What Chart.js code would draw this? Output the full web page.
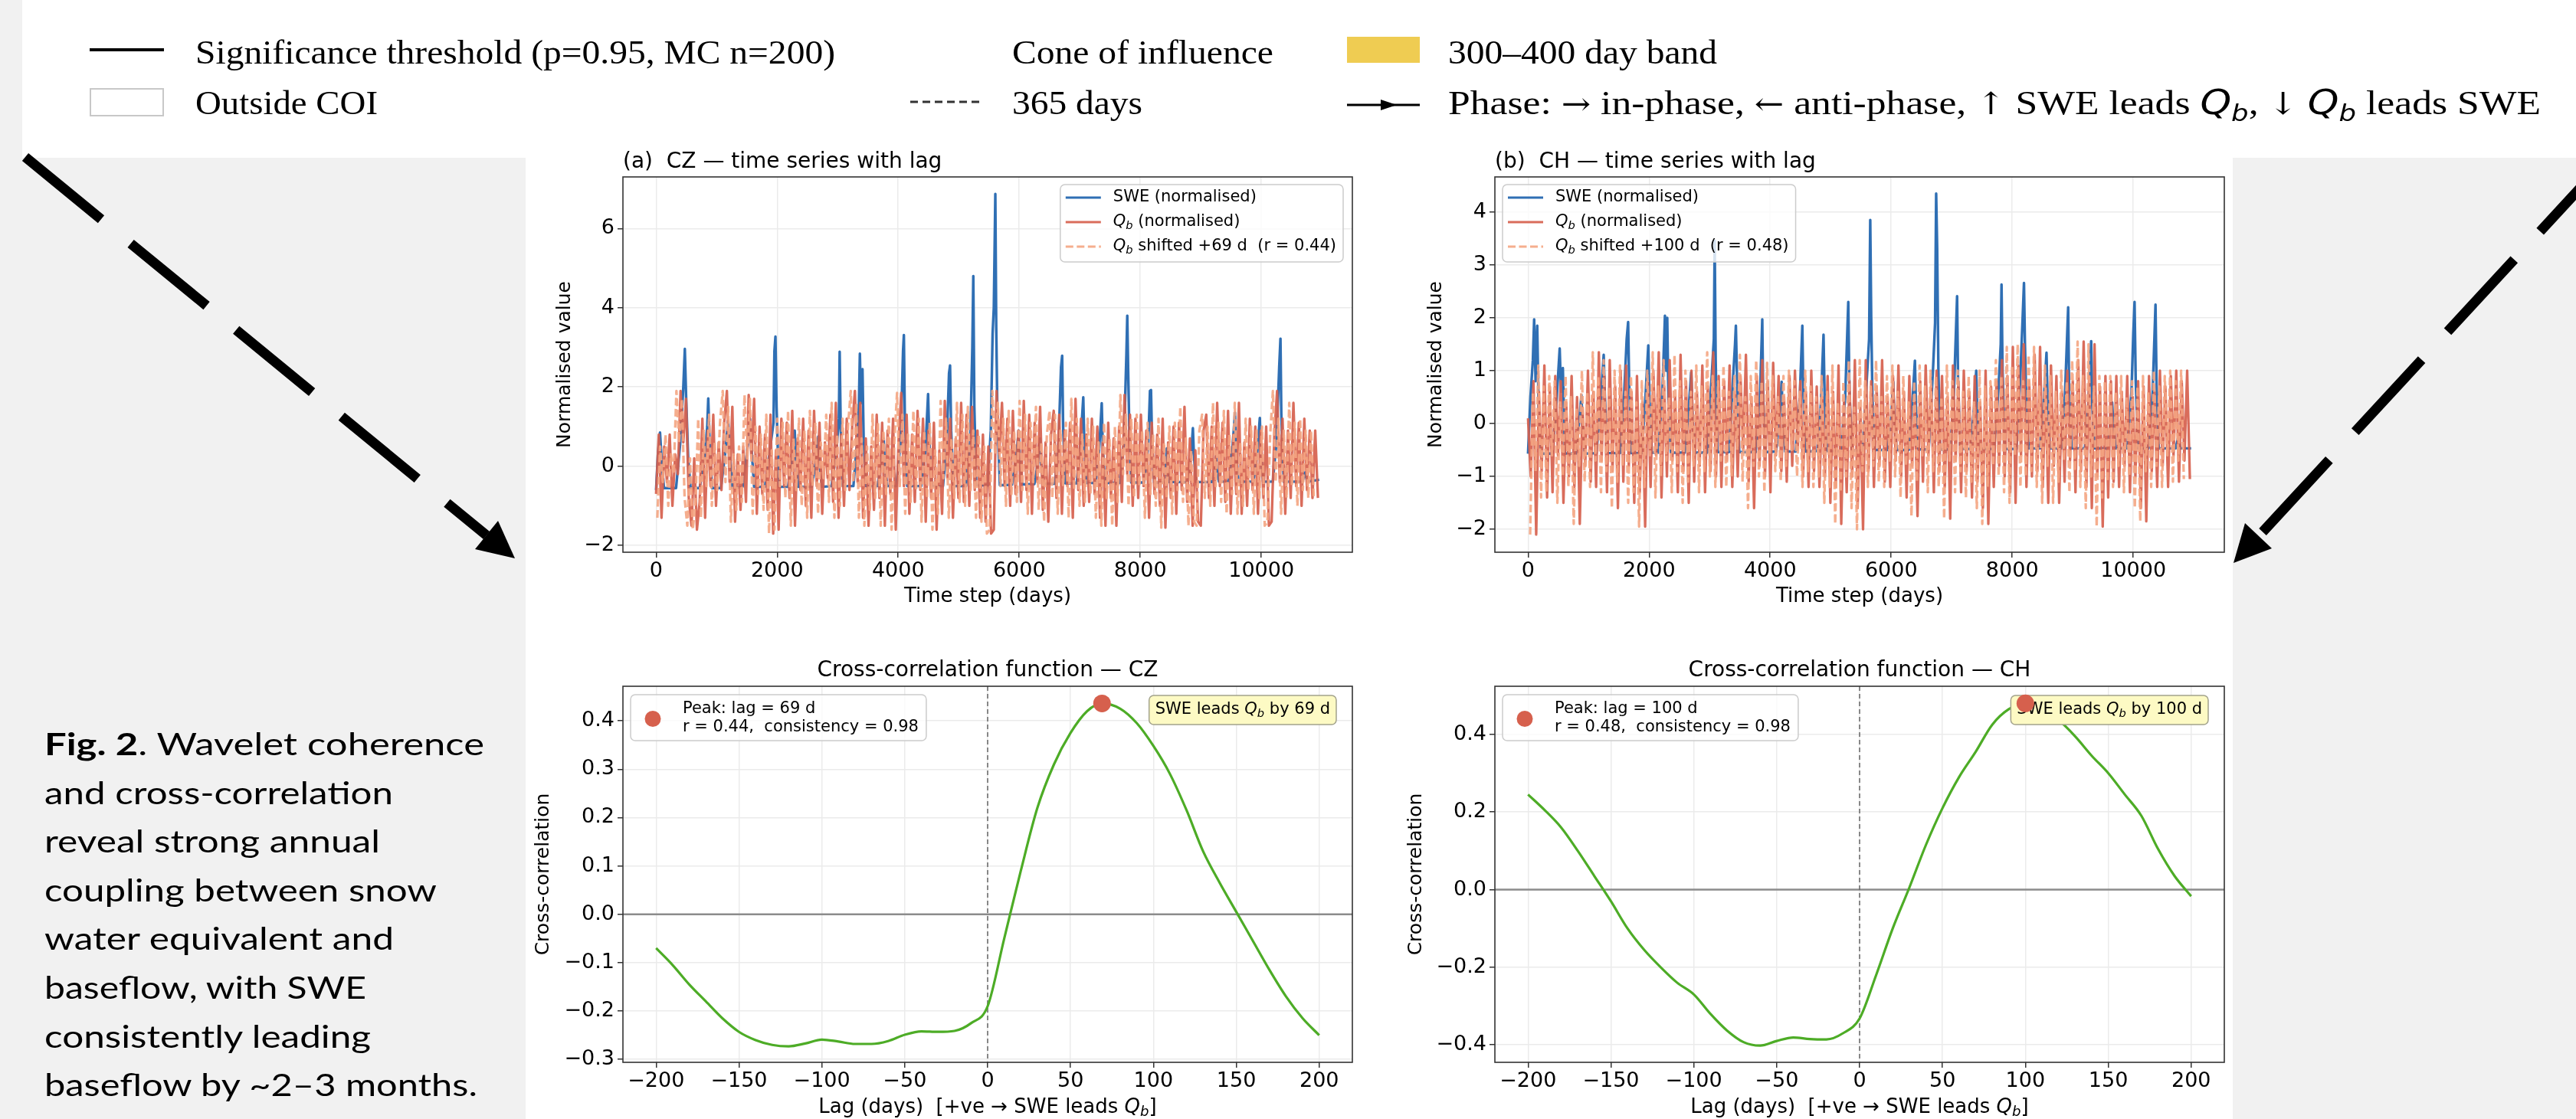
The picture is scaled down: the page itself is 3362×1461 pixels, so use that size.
<!DOCTYPE html>
<html>
<head>
<meta charset="utf-8">
<title>SWE / baseflow lag</title>
<script src="https://cdn.jsdelivr.net/npm/chart.js@4.4.1/dist/chart.umd.min.js"></script>
<style>
  html, body { margin: 0; padding: 0; }
  body { width: 3362px; height: 1461px; position: relative; overflow: hidden; background: #f1f1f1; }
  .sheet { position: absolute; background: #fff; }
  .panel { position: absolute; }
  #deco { position: absolute; left: 0; top: 0; }
</style>
</head>
<body>
<div class="sheet" style="left:686px;top:0;width:2228px;height:1461px"></div>
<div class="sheet" style="left:29px;top:0;width:3333px;height:206px"></div>

<div class="panel" style="left:680px;top:180px"><canvas id="tsCZ" width="1105" height="620"></canvas></div>
<div class="panel" style="left:1820px;top:180px"><canvas id="tsCH" width="1105" height="620"></canvas></div>
<div class="panel" style="left:680px;top:830px"><canvas id="xcCZ" width="1105" height="631"></canvas></div>
<div class="panel" style="left:1820px;top:830px"><canvas id="xcCH" width="1105" height="631"></canvas></div>

<svg id="deco" width="3362" height="1461">
  <!-- pointer arrows -->
  <line x1="33" y1="205" x2="635" y2="699" stroke="#000" stroke-width="13" stroke-dasharray="128 50"/>
  <polygon points="672,729 620,717 650,680" fill="#000"/>
  <line x1="3402" y1="208" x2="2948" y2="700" stroke="#000" stroke-width="13" stroke-dasharray="128 50"/>
  <polygon points="2915,735 2965,716 2930,683" fill="#000"/>

  <!-- key for the wavelet panels -->
  <g font-family="'Liberation Serif', serif" font-size="45" fill="#000" style="white-space:pre">
    <line x1="117" y1="65" x2="214" y2="65" stroke="#000" stroke-width="4"/>
    <text x="255" y="83" textLength="835" lengthAdjust="spacingAndGlyphs">Significance threshold (p=0.95, MC n=200)</text>
    <rect x="118" y="116" width="95" height="35" fill="#fff" stroke="#c8c8c8" stroke-width="2"/>
    <text x="255" y="149" textLength="238" lengthAdjust="spacingAndGlyphs">Outside COI</text>
    <text x="1321" y="83" textLength="341" lengthAdjust="spacingAndGlyphs">Cone of influence</text>
    <line x1="1188" y1="133" x2="1282" y2="133" stroke="#333" stroke-width="3" stroke-dasharray="10 6"/>
    <text x="1321" y="149" textLength="170" lengthAdjust="spacingAndGlyphs">365 days</text>
    <rect x="1758" y="48" width="95" height="34" fill="#efcc52"/>
    <text x="1890" y="83" textLength="351" lengthAdjust="spacingAndGlyphs">300–400 day band</text>
    <line x1="1758" y1="137" x2="1853" y2="137" stroke="#000" stroke-width="3"/>
    <polygon points="1823,137 1802,130 1802,144" fill="#000"/>
    <text x="1890" y="149" textLength="1426" lengthAdjust="spacingAndGlyphs">Phase: <tspan font-family="'DejaVu Serif'" font-size="40">→</tspan> in-phase, <tspan font-family="'DejaVu Serif'" font-size="40">←</tspan> anti-phase,  <tspan font-family="'DejaVu Serif'" font-size="40">↑</tspan> SWE leads <tspan font-family="'DejaVu Sans'" font-style="italic">Q</tspan><tspan font-family="'DejaVu Sans'" font-style="italic" font-size="31" dy="9">b</tspan><tspan dy="-9">,  </tspan><tspan font-family="'DejaVu Serif'" font-size="40">↓</tspan><tspan> </tspan><tspan font-family="'DejaVu Sans'" font-style="italic">Q</tspan><tspan font-family="'DejaVu Sans'" font-style="italic" font-size="31" dy="9">b</tspan><tspan dy="-9"> leads SWE</tspan></text>
  </g>

  <!-- caption -->
  <g font-family="Lato, 'Open Sans', sans-serif" font-size="40" fill="#000" style="white-space:pre">
    <text x="58" y="986" textLength="574" lengthAdjust="spacingAndGlyphs"><tspan font-weight="700">Fig. 2</tspan>. Wavelet coherence</text>
    <text x="58" y="1050" textLength="455" lengthAdjust="spacingAndGlyphs">and cross-correlation</text>
    <text x="58" y="1113" textLength="438" lengthAdjust="spacingAndGlyphs">reveal strong annual</text>
    <text x="58" y="1177" textLength="512" lengthAdjust="spacingAndGlyphs">coupling between snow</text>
    <text x="58" y="1240" textLength="456" lengthAdjust="spacingAndGlyphs">water equivalent and</text>
    <text x="58" y="1304" textLength="420" lengthAdjust="spacingAndGlyphs">baseflow, with SWE</text>
    <text x="58" y="1368" textLength="426" lengthAdjust="spacingAndGlyphs">consistently leading</text>
    <text x="58" y="1431" textLength="565" lengthAdjust="spacingAndGlyphs">baseflow by ~2–3 months.</text>
  </g>
</svg>

<script>
// ---------------- data ----------------
const tsTicksX = [0, 2000, 4000, 6000, 8000, 10000];
const lagTicksX = [-200, -150, -100, -50, 0, 50, 100, 150, 200];
const czTicksY = [-2, 0, 2, 4, 6];
const chTicksY = [-2, -1, 0, 1, 2, 3, 4];
const czXcTicksY = [-0.3, -0.2, -0.1, 0, 0.1, 0.2, 0.3, 0.4];
const chXcTicksY = [-0.4, -0.2, 0, 0.2, 0.4];

// peak of the cross-correlation and the lag used for the shifted series
const czLag = 69, czPeakR = 0.436, czConsistency = 0.98;
const chLag = 100, chPeakR = 0.48, chConsistency = 0.98;

// SWE (normalised), one line per winter: day index and value
const czSweDay = [
  0, 30, 65, 90, 130,
  330, 400, 450, 475, 495, 530, 570,
  720, 800, 845, 862, 880, 925,
  1070, 1140, 1190, 1215, 1260,
  1430, 1500, 1551, 1575, 1620,
  1800, 1880, 1940, 1955, 1972, 1990, 2030,
  2180, 2250, 2290, 2310, 2350,
  2570, 2640, 2680, 2700, 2740,
  2900, 2980, 3020, 3033, 3050, 3085,
  3260, 3320, 3350, 3367, 3385, 3410, 3430, 3470,
  3660, 3720, 3760, 3780, 3820,
  3970, 4040, 4080, 4094, 4110, 4150,
  4380, 4450, 4494, 4515, 4555,
  4740, 4800, 4840, 4857, 4875, 4915,
  5120, 5190, 5225, 5241, 5258, 5290,
  5480, 5530, 5560, 5580, 5605, 5620, 5640, 5680,
  5880, 5950, 5990, 6010, 6050,
  6250, 6310, 6345, 6365, 6400,
  6590, 6650, 6690, 6709, 6725, 6760,
  6950, 7010, 7058, 7075, 7110,
  7260, 7320, 7363, 7380, 7415,
  7660, 7730, 7770, 7785, 7800, 7820, 7850,
  8060, 8130, 8160, 8177, 8195, 8230,
  8390, 8420, 8439, 8455, 8480,
  8780, 8840, 8869, 8885, 8920,
  9180, 9230, 9249, 9265, 9300,
  9460, 9520, 9565, 9580, 9620,
  9870, 9930, 9975, 9990, 10030,
  10190, 10250, 10295, 10316, 10330, 10370,
  10680, 10722, 10760, 10956
];
const czSwe = [
  -0.6, 0.3, 0.85, 0.2, -0.55,
  -0.55, 0.6, 2.0, 2.96, 1.8, 0.2, -0.55,
  -0.55, 0.2, 1.0, 1.71, 0.8, -0.55,
  -0.55, 0.3, 1.15, 0.4, -0.55,
  -0.52, 0.3, 1.2, 0.5, -0.52,
  -0.52, 0.4, 1.1, 2.9, 3.27, 1.5, -0.52,
  -0.52, 0.2, 0.9, 0.2, -0.52,
  -0.52, 0.1, 0.75, 0.1, -0.52,
  -0.5, 0.4, 1.2, 2.89, 1.0, -0.5,
  -0.5, 0.6, 1.5, 2.84, 1.6, 2.45, 0.6, -0.5,
  -0.5, 0.1, 0.7, 0.0, -0.5,
  -0.5, 0.6, 2.9, 3.31, 1.2, -0.5,
  -0.5, 0.4, 1.82, 0.6, -0.5,
  -0.5, 0.5, 2.35, 2.54, 0.9, -0.5,
  -0.5, 0.6, 3.0, 4.8, 1.5, -0.48,
  -0.48, 0.9, 3.35, 4.0, 6.87, 3.5, 1.2, -0.48,
  -0.47, 0.2, 0.9, 0.2, -0.46,
  -0.45, 0.1, 0.7, 0.0, -0.44,
  -0.44, 0.6, 2.5, 2.79, 1.0, -0.43,
  -0.43, 0.5, 1.74, 0.6, -0.42,
  -0.42, 0.4, 1.59, 0.5, -0.42,
  -0.42, 0.6, 2.8, 3.8, 2.4, 0.8, -0.41,
  -0.41, 0.5, 1.9, 1.92, 0.6, -0.41,
  -0.41, 0.0, 0.45, 0.0, -0.4,
  -0.4, 0.3, 0.96, 0.3, -0.4,
  -0.4, -0.1, 0.25, -0.1, -0.39,
  -0.39, 0.4, 1.35, 0.4, -0.39,
  -0.39, 0.3, 1.22, 0.4, -0.39,
  -0.39, 0.6, 2.5, 3.22, 1.3, -0.39,
  -0.39, -0.16, -0.39, -0.34
];

const chSweDay = [
  0, 40, 80, 101, 125, 152, 175, 215,
  400, 470, 523, 545, 575, 610,
  790, 850, 882, 900, 940,
  1130, 1200, 1250, 1270, 1310,
  1520, 1590, 1630, 1654, 1670, 1710,
  1880, 1940, 1987, 2005, 2045,
  2150, 2220, 2262, 2280, 2300, 2320, 2360,
  2590, 2650, 2696, 2715, 2750,
  2960, 3030, 3070, 3084, 3100, 3130,
  3320, 3390, 3420, 3434, 3450, 3490,
  3760, 3830, 3870, 3885, 3920,
  4100, 4160, 4190, 4210, 4250,
  4420, 4490, 4532, 4548, 4590,
  4780, 4840, 4882, 4900, 4940,
  5170, 5240, 5291, 5310, 5350,
  5530, 5600, 5635, 5654, 5670, 5690, 5725,
  5940, 6000, 6034, 6050, 6090,
  6290, 6350, 6392, 6410, 6450,
  6620, 6690, 6725, 6743, 6760, 6780, 6810,
  6980, 7040, 7089, 7105, 7140,
  7310, 7370, 7405, 7420, 7460,
  7700, 7770, 7810, 7823, 7840, 7880,
  8070, 8130, 8165, 8194, 8210, 8235, 8270,
  8460, 8520, 8566, 8585, 8620,
  8810, 8870, 8924, 8940, 8980,
  9200, 9260, 9304, 9320, 9360,
  9570, 9620, 9650, 9670, 9710,
  9900, 9970, 10000, 10021, 10040, 10080,
  10250, 10320, 10367, 10385, 10420,
  10700, 10740, 10780, 10956
];
const chSwe = [
  -0.57, 0.5, 1.2, 1.97, 0.8, 1.85, 0.3, -0.57,
  -0.57, 0.4, 1.42, 0.6, 1.05, -0.57,
  -0.57, 0.1, 0.54, 0.0, -0.57,
  -0.56, 0.4, 1.3, 0.5, -0.56,
  -0.56, 0.6, 1.6, 1.92, 0.8, -0.56,
  -0.56, 0.5, 1.48, 0.5, -0.55,
  -0.55, 0.6, 2.04, 1.0, 2.0, 0.4, -0.55,
  -0.55, 0.2, 0.97, 0.2, -0.55,
  -0.55, 0.8, 1.6, 3.46, 1.2, -0.54,
  -0.54, 0.9, 1.5, 1.85, 1.0, -0.54,
  -0.54, 0.4, 1.97, 0.5, -0.54,
  -0.53, 0.2, 0.79, 0.1, -0.53,
  -0.53, 0.5, 1.85, 0.6, -0.53,
  -0.52, 0.4, 1.68, 0.5, -0.52,
  -0.52, 0.5, 2.3, 0.6, -0.51,
  -0.51, 0.9, 1.6, 3.85, 2.0, 0.5, -0.5,
  -0.5, 0.1, 0.79, 0.1, -0.5,
  -0.5, 0.4, 1.19, 0.3, -0.49,
  -0.49, 1.0, 1.9, 4.35, 3.3, 1.0, -0.49,
  -0.49, 0.7, 2.41, 0.8, -0.48,
  -0.48, 0.3, 1.0, 0.3, -0.48,
  -0.48, 0.6, 1.5, 2.63, 1.0, -0.48,
  -0.48, 0.8, 1.8, 2.66, 1.5, 0.3, -0.47,
  -0.47, 0.4, 1.34, 0.4, -0.47,
  -0.47, 0.5, 2.2, 0.6, -0.47,
  -0.47, 0.4, 1.56, 0.4, -0.47,
  -0.47, 0.0, 0.4, 0.0, -0.47,
  -0.47, 0.6, 1.7, 2.3, 0.8, -0.47,
  -0.47, 0.6, 2.25, 0.7, -0.47,
  -0.47, -0.27, -0.47, -0.47
];

// baseflow Qb (normalised), read every 45 days from day 0
const qbStep = 45;
const czQb = [
  -0.7, 0.8, -1.3, 0.5, -0.4, 0.8, -1.0, 0.3,
  -0.2, 1.9, 0.6, 1.7, -0.8, -1.5, 0.2, -1.6,
  -0.9, 1.2, -1.3, 0.9, -0.5, 1.3, -1.0, 0.6,
  -0.6, 1.1, 1.9, -0.4, 1.5, -1.4, 0.3, -1.1,
  0.5, -0.9, 1.8, 0.2, 1.7, -1.2, 1.0, -0.7,
  0.8, -1.1, 1.3, -1.7, 0.4, -1.6, 1.2, -0.5,
  1.1, -0.8, 1.4, -1.5, 0.7, -0.6, 1.2, -1.0,
  0.9, -1.3, 1.4, -0.5, 1.1, -1.2, 0.6, -0.3,
  1.3, -0.9, 1.6, -1.3, 0.8, -1.0, 1.2, -0.6,
  1.0, 1.9, -0.4, 1.6, -1.3, 0.7, -1.5, 0.5,
  -1.1, 1.3, -0.8, 1.1, -1.5, 0.9, -0.7, 1.2,
  -1.6, 0.6, 1.85, -0.5, 1.3, -1.2, 0.8, -0.9,
  1.4, -0.6, 1.2, -1.4, 0.9, -0.8, 1.1, -1.6,
  0.4, -1.2, 1.65, -0.3, 1.2, -1.3, 0.7, -0.8,
  1.6, -0.9, 1.3, -1.0, 1.5, -0.6, 0.9, -1.3,
  0.8, -1.4, 0.5, -1.7, -1.6, 1.9, 0.3, 1.6,
  -0.5, 1.2, -1.0, 1.4, -0.7, 0.9, -0.9, 1.65,
  -0.6, 1.3, -1.2, 1.1, -0.4, 1.5, -1.1, 0.6,
  -1.4, 0.8, 1.4, -0.8, 1.3, -1.2, 0.9, -0.5,
  1.1, -1.3, 1.7, -0.6, 1.2, -1.0, 0.8, -0.9,
  1.2, -0.7, 1.0, -1.3, 0.6, -1.5, 1.1, -0.8,
  0.7, -1.5, 1.0, -0.9, 1.8, -0.2, 1.3, -1.0,
  1.2, -0.8, 1.3, -0.5, 0.9, -1.3, 1.1, -0.7,
  0.8, -1.0, 1.2, -1.55, 0.6, -0.8, 1.0, -1.2,
  1.1, -0.6, 1.5, -0.9, 0.7, -1.5, 0.4, -1.4,
  -1.5, 0.9, 1.3, -0.8, 1.0, -1.0, 1.6, -0.5,
  1.1, -0.9, 1.4, -1.2, 0.8, -0.7, 1.6, -1.2,
  0.6, -1.0, 1.2, -0.6, 1.0, -1.2, 0.9, -0.8,
  1.0, -1.5, -1.4, 0.8, 1.9, -0.4, 1.2, -1.2,
  0.9, -0.8, 1.6, -0.5, 1.1, -1.0, 1.2, -0.6,
  0.9, -0.8, 0.9, -0.8
];
const chQb = [
  0.1, -1.0, 0.8, -2.1, 0.6, -0.9, 1.1, -1.4,
  0.7, -1.3, 0.9, -0.6, 0.8, -1.5, 0.4, -1.0,
  0.9, -1.2, 0.5, -1.9, 0.3, -0.8, 1.0, -1.1,
  0.6, -1.2, 1.35, -0.7, 0.9, -1.3, 1.2, -0.9,
  0.7, -1.6, 1.0, -1.1, 1.1, -0.8, 0.6, -1.5,
  0.9, -1.3, 0.4, -1.95, 0.8, -1.2, 1.0, -0.6,
  1.35, -1.4, 0.7, -1.0, 1.2, -0.7, 0.5, -1.3,
  1.3, -0.9, 0.8, -1.5, 1.0, -1.1, 0.6, -0.8,
  1.1, -1.3, 0.7, -0.9, 1.35, -1.0, 0.9, -1.2,
  0.8, -0.7, 1.1, -1.2, 0.6, -1.0, 0.9, -0.5,
  1.3, -1.1, 0.5, -1.6, 0.9, -0.8, 1.2, -1.0,
  0.8, -1.3, 1.15, -0.6, 0.9, -0.9, 0.5, -1.1,
  0.9, -0.8, 1.0, -0.5, 0.8, -1.0, 0.6, -1.2,
  1.0, -0.9, 0.7, -1.2, 0.5, -1.0, 0.9, -1.5,
  0.6, -1.2, 1.1, -1.9, 0.4, -1.3, 0.8, -1.0,
  1.2, -1.6, 0.3, -2.0, 1.2, -0.9, 0.8, -1.2,
  0.7, -0.8, 1.2, -1.1, 0.5, -1.2, 0.9, -0.7,
  1.1, -1.0, 0.6, -1.4, 0.9, -0.8, 0.4, -1.75,
  0.8, -1.1, 1.1, -0.6, 0.7, -1.3, 1.0, -0.9,
  0.9, -1.2, 0.5, -1.8, 1.1, -0.7, 0.8, -1.3,
  1.0, -0.9, 0.6, -1.4, 0.9, -1.1, 0.4, -1.6,
  1.0, -1.9, 0.7, -1.2, 0.8, -0.8, 1.2, -1.0,
  0.9, -1.3, 1.45, -1.5, 1.1, -0.6, 1.5, -1.2,
  0.8, -1.0, 1.3, -0.9, 1.45, -1.2, 0.7, -1.5,
  1.1, -0.8, 0.9, -1.5, 0.6, -1.1, 1.0, -0.7,
  0.8, -1.3, 1.2, -0.9, 1.55, -1.2, 0.9, -1.6,
  1.5, -1.0, 0.7, -1.95, 0.9, -1.4, 0.8, -1.1,
  0.9, -1.2, 0.6, -0.8, 0.9, -1.3, 0.5, -1.0,
  0.8, -1.6, 0.7, -1.85, 0.9, -0.9, 0.6, -1.2,
  1.0, -0.8, 0.7, -1.2, 0.9, -0.6, 1.0, -1.1,
  0.8, -0.7, 1.0, -1.05
];

// cross-correlation against lag (days)
const czXcLag = [-200, -190, -180, -170, -160, -150, -140, -130, -120, -110, -100, -90, -80, -70, -60, -50, -40, -30, -20, -10,
  0, 10, 20, 30, 40, 50, 60, 69, 80, 90, 100, 110, 120, 130, 140, 150, 160, 170, 180, 190, 200];
const czXc = [-0.07, -0.105, -0.145, -0.18, -0.215, -0.243, -0.26, -0.27, -0.273, -0.267, -0.259, -0.263, -0.268, -0.268, -0.262, -0.249, -0.242, -0.243, -0.241, -0.225,
  -0.19, -0.05, 0.09, 0.22, 0.31, 0.375, 0.42, 0.436, 0.425, 0.395, 0.348, 0.29, 0.215, 0.13, 0.065, 0.005, -0.055, -0.115, -0.17, -0.215, -0.25];
const chXcLag = [-200, -190, -180, -170, -160, -150, -140, -130, -120, -110, -100, -90, -80, -70, -60, -50, -40, -30, -20, -10,
  0, 10, 20, 30, 40, 50, 60, 70, 80, 90, 100, 110, 120, 130, 140, 150, 160, 170, 180, 190, 200];
const chXc = [0.245, 0.205, 0.16, 0.10, 0.035, -0.03, -0.10, -0.155, -0.20, -0.24, -0.27, -0.32, -0.363, -0.393, -0.402, -0.39, -0.381, -0.385, -0.386, -0.37,
  -0.332, -0.22, -0.1, 0.005, 0.115, 0.21, 0.29, 0.355, 0.425, 0.465, 0.48, 0.465, 0.437, 0.395, 0.345, 0.3, 0.245, 0.19, 0.105, 0.035, -0.017];

// ---------------- styling ----------------
const FAMILY = '"DejaVu Sans", sans-serif';
const SWE_C = '#2f6fb4';
const QB_C = 'rgba(214, 96, 77, 0.92)';
const QBS_C = 'rgba(244, 165, 130, 0.9)';
const XC_C = '#4dac26';
const PEAK_C = '#d6604d';
const GRID_C = '#ebebeb';
const QB = [['Q', 'it'], ['b', 'sub']];

Chart.defaults.font.family = FAMILY;

function fmt(v, dec) {
  return (v < -1e-9 ? '\u2212' : '') + Math.abs(v).toFixed(dec);
}

function pairs(xs, ys) {
  return xs.map((x, i) => ({ x, y: ys[i] }));
}

function sampled(vals, step, shift) {
  const out = [];
  vals.forEach((v, i) => {
    const x = i * step - shift;
    if (x >= 0) out.push({ x, y: v });
  });
  return out;
}

function setFont(ctx, size, italic) {
  ctx.font = (italic ? 'italic ' : '') + size + 'px ' + FAMILY;
}

// text made of plain / italic / italic-subscript runs
function richWidth(ctx, parts, size) {
  let w = 0;
  parts.forEach(([t, k]) => {
    setFont(ctx, k === 'sub' ? size * 0.7 : size, !!k);
    w += ctx.measureText(t).width;
  });
  return w;
}

function drawRich(ctx, parts, x, y, size, align) {
  const w = richWidth(ctx, parts, size);
  let cx = align === 'center' ? x - w / 2 : align === 'right' ? x - w : x;
  ctx.textAlign = 'left';
  ctx.textBaseline = 'middle';
  parts.forEach(([t, k]) => {
    setFont(ctx, k === 'sub' ? size * 0.7 : size, !!k);
    ctx.fillText(t, cx, k === 'sub' ? y + size * 0.25 : y);
    cx += ctx.measureText(t).width;
  });
}

function boxPath(ctx, x, y, w, h, r) {
  ctx.beginPath();
  if (ctx.roundRect) ctx.roundRect(x, y, w, h, r);
  else ctx.rect(x, y, w, h);
}

function drawSeriesLegend(chart, lg) {
  const { ctx, chartArea: ca } = chart;
  const fs = 21;
  let tw = 0;
  lg.rows.forEach((r) => { tw = Math.max(tw, richWidth(ctx, r.parts, fs)); });
  const w = 69 + tw + 9, h = 101;
  const x0 = lg.side === 'right' ? ca.right - 12 - w : ca.left + 10;
  const y0 = ca.top + 10;
  ctx.save();
  boxPath(ctx, x0, y0, w, h, 6);
  ctx.fillStyle = 'rgba(255,255,255,0.8)';
  ctx.fill();
  ctx.strokeStyle = '#cccccc';
  ctx.lineWidth = 1.5;
  ctx.stroke();
  lg.rows.forEach((r, i) => {
    const yc = y0 + 17 + 32 * i;
    ctx.strokeStyle = r.color;
    ctx.lineWidth = 3.2;
    ctx.setLineDash(r.dash || []);
    ctx.beginPath();
    ctx.moveTo(x0 + 7, yc);
    ctx.lineTo(x0 + 53, yc);
    ctx.stroke();
    ctx.setLineDash([]);
    ctx.fillStyle = '#000';
    drawRich(ctx, r.parts, x0 + 69, yc, fs, 'left');
  });
  ctx.restore();
}

function drawPeakLegend(chart, pk) {
  const { ctx, chartArea: ca } = chart;
  const fs = 21;
  const lines = ['Peak: lag = ' + pk.lag + ' d', 'r = ' + pk.r.toFixed(2) + ',  consistency = ' + pk.cons.toFixed(2)];
  ctx.save();
  setFont(ctx, fs, false);
  const tw = Math.max(...lines.map((t) => ctx.measureText(t).width));
  const w = 68 + tw + 10, h = 60;
  const x0 = ca.left + 10, y0 = ca.top + 11;
  boxPath(ctx, x0, y0, w, h, 6);
  ctx.fillStyle = 'rgba(255,255,255,0.8)';
  ctx.fill();
  ctx.strokeStyle = '#cccccc';
  ctx.lineWidth = 1.5;
  ctx.stroke();
  ctx.fillStyle = PEAK_C;
  ctx.beginPath();
  ctx.arc(x0 + 29, y0 + 31.5, 10.5, 0, Math.PI * 2);
  ctx.fill();
  ctx.fillStyle = '#000';
  drawRich(ctx, [[lines[0], '']], x0 + 68, y0 + 18.5, fs, 'left');
  drawRich(ctx, [[lines[1], '']], x0 + 68, y0 + 42.5, fs, 'left');
  ctx.restore();
}

function drawNote(chart, parts) {
  const { ctx, chartArea: ca } = chart;
  const fs = 21;
  ctx.save();
  const w = richWidth(ctx, parts, fs) + 16, h = 38;
  const x0 = ca.right - 21 - w, y0 = ca.top + 12;
  boxPath(ctx, x0, y0, w, h, 6);
  ctx.fillStyle = '#fdfac4';
  ctx.fill();
  ctx.strokeStyle = '#a3a38c';
  ctx.lineWidth = 1.5;
  ctx.stroke();
  ctx.fillStyle = '#000';
  drawRich(ctx, parts, x0 + 8, y0 + h / 2, fs, 'left');
  ctx.restore();
}

// frame, titles, axis labels, in-axes legends and reference lines
function decorPlugin(cfg) {
  return {
    id: 'decor',
    beforeDatasetsDraw(chart) {
      if (!cfg.zeroLines) return;
      const { ctx, chartArea: ca, scales } = chart;
      ctx.save();
      const y0 = scales.y.getPixelForValue(0);
      ctx.strokeStyle = '#8c8c8c';
      ctx.lineWidth = 2.5;
      ctx.beginPath();
      ctx.moveTo(ca.left, y0);
      ctx.lineTo(ca.right, y0);
      ctx.stroke();
      const x0 = scales.x.getPixelForValue(0);
      ctx.strokeStyle = '#666';
      ctx.lineWidth = 1.5;
      ctx.setLineDash([6, 4]);
      ctx.beginPath();
      ctx.moveTo(x0, ca.top);
      ctx.lineTo(x0, ca.bottom);
      ctx.stroke();
      ctx.restore();
    },
    afterDatasetDraw(chart, args) {
      if (cfg.note && args.index === 0) drawNote(chart, cfg.note);
    },
    afterDraw(chart) {
      const { ctx, chartArea: ca } = chart;
      ctx.save();
      ctx.strokeStyle = '#333';
      ctx.lineWidth = 1.6;
      ctx.strokeRect(ca.left, ca.top, ca.right - ca.left, ca.bottom - ca.top);
      ctx.fillStyle = '#000';
      const tx = cfg.titleAlign === 'left' ? ca.left : (ca.left + ca.right) / 2;
      drawRich(ctx, [[cfg.title, '']], tx, ca.top - cfg.titleGap, 28, cfg.titleAlign);
      drawRich(ctx, cfg.xTitle, (ca.left + ca.right) / 2, ca.bottom + cfg.xTitleGap, 26, 'center');
      ctx.save();
      ctx.translate(ca.left + cfg.yTitleOff, (ca.top + ca.bottom) / 2);
      ctx.rotate(-Math.PI / 2);
      drawRich(ctx, [[cfg.yTitle, '']], 0, 0, 25, 'center');
      ctx.restore();
      if (cfg.legend) drawSeriesLegend(chart, cfg.legend);
      if (cfg.peak) drawPeakLegend(chart, cfg.peak);
      ctx.restore();
    }
  };
}

function linearAxis(min, max, tickVals, dec, fitKey, fitVal, pad) {
  return {
    type: 'linear',
    min,
    max,
    afterBuildTicks: (s) => { s.ticks = tickVals.map((v) => ({ value: v })); },
    afterFit: (s) => { s[fitKey] = fitVal; },
    grid: { color: GRID_C, lineWidth: 1.5, drawTicks: true, tickLength: 7, tickColor: '#333', tickWidth: 1.5 },
    border: { display: false },
    ticks: {
      font: { family: FAMILY, size: 27 },
      color: '#000',
      padding: pad,
      autoSkip: false,
      maxRotation: 0,
      callback: (v) => fmt(v, dec)
    },
    title: { display: false }
  };
}

function baseOptions(o) {
  return {
    responsive: false,
    animation: false,
    events: [],
    layout: { padding: { left: 0, top: o.padTop, right: o.padRight, bottom: 0 } },
    plugins: { legend: { display: false }, title: { display: false }, tooltip: { enabled: false } },
    elements: { point: { radius: 0 }, line: { tension: 0, borderJoinStyle: 'round', fill: false } },
    scales: {
      x: linearAxis(o.x[0], o.x[1], o.xTicks, 0, 'height', o.xAxisH, 2),
      y: linearAxis(o.y[0], o.y[1], o.yTicks, o.yDec, 'width', o.yAxisW, 4)
    }
  };
}

function timeSeriesChart(id, o) {
  const lagLabel = ' shifted +' + o.lag + ' d  (r = ' + o.r.toFixed(2) + ')';
  return new Chart(document.getElementById(id), {
    type: 'line',
    data: {
      datasets: [
        { data: pairs(o.sweDay, o.swe), borderColor: SWE_C, borderWidth: 3.4, order: 3 },
        { data: sampled(o.qb, qbStep, 0), borderColor: QB_C, borderWidth: 3.3, order: 2 },
        { data: sampled(o.qb, qbStep, o.lag), borderColor: QBS_C, borderWidth: 3.3, borderDash: [10, 4.5], order: 1 }
      ]
    },
    options: baseOptions({
      padTop: 51, padRight: o.padRight, xAxisH: 79, yAxisW: o.yAxisW,
      x: [-547.8, 11503.8], xTicks: tsTicksX,
      y: o.yRange, yTicks: o.yTicks, yDec: 0
    }),
    plugins: [decorPlugin({
      title: o.title, titleAlign: 'left', titleGap: 19,
      xTitle: [['Time step (days)', '']], xTitleGap: 58,
      yTitle: 'Normalised value', yTitleOff: o.yTitleOff,
      legend: {
        side: o.legendSide,
        rows: [
          { color: SWE_C, parts: [['SWE (normalised)', '']] },
          { color: QB_C, parts: [...QB, [' (normalised)', '']] },
          { color: QBS_C, dash: [10, 4.5], parts: [...QB, [lagLabel, '']] }
        ]
      }
    })]
  });
}

function xcorrChart(id, o) {
  return new Chart(document.getElementById(id), {
    type: 'line',
    data: {
      datasets: [
        { data: pairs(o.lags, o.vals), borderColor: XC_C, borderWidth: 3.2, cubicInterpolationMode: 'monotone', order: 1 },
        { data: [{ x: o.lag, y: o.r }], showLine: false, pointRadius: 11.5, pointBackgroundColor: PEAK_C, pointBorderWidth: 0, order: 0 }
      ]
    },
    options: baseOptions({
      padTop: 66, padRight: o.padRight, xAxisH: 74, yAxisW: o.yAxisW,
      x: [-220, 220], xTicks: lagTicksX,
      y: o.yRange, yTicks: o.yTicks, yDec: 1
    }),
    plugins: [decorPlugin({
      title: o.title, titleAlign: 'center', titleGap: 20,
      xTitle: [['Lag (days)  [+ve \u2192 SWE leads ', ''], ...QB, [']', '']], xTitleGap: 59,
      yTitle: 'Cross-correlation', yTitleOff: o.yTitleOff,
      zeroLines: true,
      note: [['SWE leads ', ''], ...QB, [' by ' + o.lag + ' d', '']],
      peak: { lag: o.lag, r: o.r, cons: o.cons }
    })]
  });
}

timeSeriesChart('tsCZ', {
  title: '(a)  CZ \u2014 time series with lag',
  sweDay: czSweDay, swe: czSwe, qb: czQb, lag: czLag, r: czPeakR,
  yRange: [-2.17, 7.30], yTicks: czTicksY,
  yAxisW: 133, padRight: 20, yTitleOff: -76, legendSide: 'right'
});
timeSeriesChart('tsCH', {
  title: '(b)  CH \u2014 time series with lag',
  sweDay: chSweDay, swe: chSwe, qb: chQb, lag: chLag, r: chPeakR,
  yRange: [-2.435, 4.666], yTicks: chTicksY,
  yAxisW: 131, padRight: 22, yTitleOff: -77, legendSide: 'left'
});
xcorrChart('xcCZ', {
  title: 'Cross-correlation function \u2014 CZ',
  lags: czXcLag, vals: czXc, lag: czLag, r: czPeakR, cons: czConsistency,
  yRange: [-0.306, 0.4715], yTicks: czXcTicksY,
  yAxisW: 133, padRight: 20, yTitleOff: -103.5
});
xcorrChart('xcCH', {
  title: 'Cross-correlation function \u2014 CH',
  lags: chXcLag, vals: chXc, lag: chLag, r: chPeakR, cons: chConsistency,
  yRange: [-0.445, 0.524], yTicks: chXcTicksY,
  yAxisW: 131, padRight: 22, yTitleOff: -103
});
</script>
</body>
</html>
